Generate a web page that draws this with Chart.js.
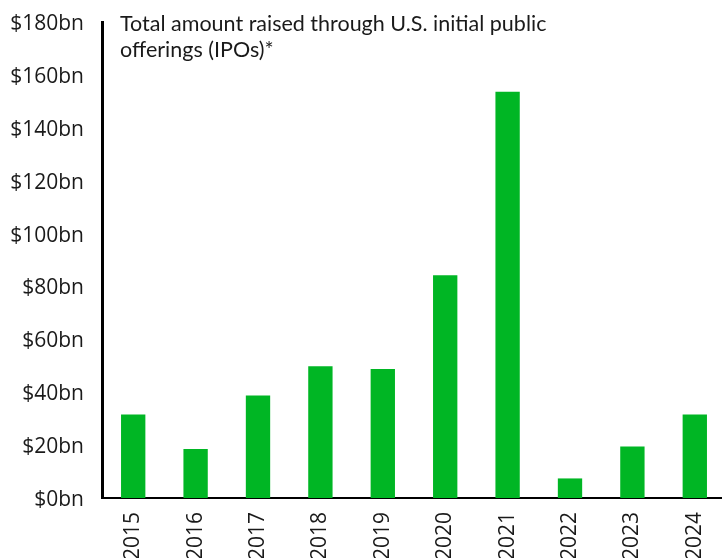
<!DOCTYPE html>
<html>
<head>
<meta charset="utf-8">
<script src="https://cdn.jsdelivr.net/npm/chart.js@4.4.1/dist/chart.umd.min.js"></script>
<style>
	html, body { margin: 0; padding: 0; background: #fff; overflow: hidden; }
	#wrap { position: absolute; left: 0; top: 0; width: 734px; height: 558px; }
</style>
</head>
<body>
<div id="wrap"><canvas id="ipo"></canvas></div>
<script>
// Years on the x axis
const years = ["2015", "2016", "2017", "2018", "2019", "2020", "2021", "2022", "2023", "2024"];
// Amount raised per year, $bn
const raised = [31.6, 18.5, 38.8, 49.8, 48.8, 84.2, 153.6, 7.4, 19.5, 31.6];
// Heading lines drawn inside the plot
const titleLines = ["Total amount raised through U.S. initial public", "offerings (IPOs)*"];

const FONT = "'Open Sans', sans-serif";

// Draws the heading text in the upper left of the plot
Chart.register({
	id: "innerTitle",
	afterDraw: (chart) => {
		const { ctx, chartArea } = chart;
		ctx.save();
		ctx.font = "21.5px Lato, sans-serif";
		ctx.fillStyle = "#1a1a1a";
		ctx.textAlign = "left";
		ctx.textBaseline = "alphabetic";
		titleLines.forEach((line, i) => {
			ctx.fillText(line, chartArea.left + 18, 31 + i * 26);
		});
		ctx.restore();
	},
});

new Chart(document.getElementById("ipo"), {
	type: "bar",
	data: {
		labels: years,
		datasets: [
			{
				data: raised,
				backgroundColor: "#00b624",
				borderWidth: 0,
				barPercentage: 0.39,
				categoryPercentage: 1,
			},
		],
	},
	options: {
		responsive: true,
		maintainAspectRatio: false,
		animation: false,
		layout: { padding: { top: 22, right: 0, bottom: 0, left: 0 } },
		plugins: {
			legend: { display: false },
			tooltip: { enabled: false },
		},
		scales: {
			x: {
				grid: { display: false, drawTicks: false },
				border: { display: true, color: "#000", width: 2 },
				ticks: {
					minRotation: 90,
					maxRotation: 90,
					padding: 14,
					color: "#1a1a1a",
					font: { family: FONT, size: 21 },
				},
				afterFit: (axis) => {
					axis.height = 60;
				},
			},
			y: {
				min: 0,
				max: 180,
				grid: { display: false, drawTicks: false },
				border: { display: true, color: "#000", width: 3 },
				ticks: {
					stepSize: 20,
					padding: 18,
					labelOffset: 2,
					color: "#1a1a1a",
					font: { family: FONT, size: 21 },
					callback: (v) => "$" + v + "bn",
				},
				afterFit: (axis) => {
					// fixed gutter for the labels; top/bottom space comes from layout padding
					axis.width = 102;
					axis.paddingTop = 0;
					axis.paddingBottom = 0;
				},
			},
		},
	},
});
</script>
</body>
</html>
